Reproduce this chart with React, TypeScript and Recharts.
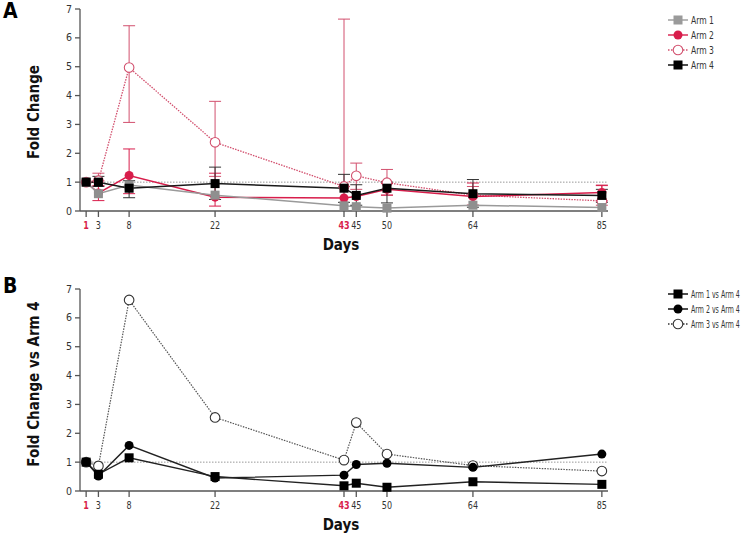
import React from "react";
import { LineChart, Line, XAxis, YAxis, ReferenceLine, ErrorBar, Legend } from "recharts";

const days = [1, 3, 8, 22, 43, 45, 50, 64, 85];
const redDays = [1, 43];
const yTicks = [0, 1, 2, 3, 4, 5, 6, 7];

// Panel A: fold change per arm
const arm1 = [1.0, 0.6, 0.9, 0.55, 0.18, 0.15, 0.1, 0.2, 0.12];
const arm2 = [1.0, 0.62, 1.23, 0.48, 0.45, 0.5, 0.75, 0.5, 0.64];
const arm3 = [1.0, 1.05, 4.97, 2.38, 0.85, 1.22, 0.98, 0.55, 0.35];
const arm4 = [1.0, 1.0, 0.79, 0.95, 0.79, 0.54, 0.79, 0.6, 0.54];

// error bar bounds (null = no bar)
const arm2Low = [null, 0.36, 0.6, 0.17, null, null, 0.55, 0.2, 0.35];
const arm2High = [null, 0.88, 2.15, 1.31, null, null, 0.95, 0.97, 0.88];
const arm3Low = [null, null, 3.07, 1.2, null, 0.75, 0.55, 0.2, 0.2];
const arm3High = [null, 1.31, 6.42, 3.8, 6.65, 1.66, 1.44, 0.85, 0.9];
const arm4Low = [null, 0.85, 0.46, 0.4, 0.3, 0.2, 0.28, 0.13, 0.3];
const arm4High = [null, 1.2, 1.05, 1.52, 1.27, 0.91, 1.0, 1.09, 0.75];

// Panel B: fold change vs arm 4
const vs1 = [1.0, 0.58, 1.15, 0.5, 0.18, 0.27, 0.13, 0.32, 0.23];
const vs2 = [1.0, 0.52, 1.58, 0.45, 0.55, 0.92, 0.96, 0.82, 1.28];
const vs3 = [1.0, 0.87, 6.62, 2.55, 1.07, 2.37, 1.28, 0.88, 0.69];

const FONT = "'Liberation Sans Narrow', 'DejaVu Sans Condensed', 'Open Sans', sans-serif";
const RED = "#d81d4b";
const PINK = "#d2506e";
const GRAY = "#9a9a9a";
const AXIS = "#555";

const err = (v: number[], lo: (number | null)[], hi: (number | null)[], i: number) => {
  if (lo[i] == null && hi[i] == null) return undefined;
  const l = lo[i] == null ? v[i] : (lo[i] as number);
  const h = hi[i] == null ? v[i] : (hi[i] as number);
  return [Math.max(0, v[i] - l), Math.max(0, h - v[i])];
};

const dataA = days.map((d, i) => ({
  day: d,
  a1: arm1[i],
  a2: arm2[i],
  a3: arm3[i],
  a4: arm4[i],
  e2: err(arm2, arm2Low, arm2High, i),
  e3: err(arm3, arm3Low, arm3High, i),
  e4: err(arm4, arm4Low, arm4High, i),
}));

const dataB = days.map((d, i) => ({ day: d, b1: vs1[i], b2: vs2[i], b3: vs3[i] }));

type Shape = "square" | "circle" | "open";

const marker = (shape: Shape, color: string, cx: number, cy: number, key?: any) => {
  if (shape === "square")
    return <rect key={key} x={cx - 4.5} y={cy - 4.5} width={9} height={9} fill={color} />;
  if (shape === "circle") return <circle key={key} cx={cx} cy={cy} r={4.5} fill={color} />;
  return <circle key={key} cx={cx} cy={cy} r={4.8} fill="#fff" stroke={color} strokeWidth={1.1} />;
};

const dotOf = (shape: Shape, color: string) => (p: any) => {
  if (p.cx == null || p.cy == null) return <g key={p.index} />;
  return marker(shape, color, p.cx, p.cy, p.index);
};

function DayTick({ x, y, payload }: any) {
  const red = redDays.includes(payload.value);
  return (
    <text transform={`translate(${x},${y}) scale(0.85,1)`} x={0} y={0} dy={10} textAnchor="middle"
      fontSize={10.5} fontFamily={FONT} fill={red ? RED : "#333"} fontWeight={red ? 700 : 400}>
      {payload.value}
    </text>
  );
}

function ValTick({ x, y, payload }: any) {
  return (
    <text x={x} y={y} dy={3.5} textAnchor="end" fontSize={10.5} fontFamily={FONT} fill="#333">
      {payload.value}
    </text>
  );
}

const yLabel = (text: string, shift: number) => (p: any) => {
  const vb = p.viewBox;
  const cy = vb.y + vb.height / 2 + shift;
  return (
    <text x={39} y={cy} transform={`rotate(-90, 39, ${cy})`} textAnchor="middle" fontSize={15}
      fontWeight={700} fontFamily={FONT} fill="#111">
      {text}
    </text>
  );
};

const daysLabel = (p: any) => {
  const vb = p.viewBox;
  return (
    <text x={341} y={vb.y + 39} textAnchor="middle" fontSize={15} fontWeight={700} fontFamily={FONT} fill="#111">
      Days
    </text>
  );
};

type Entry = { name: string; shape: Shape; color: string; dash?: string };
const legendA: Entry[] = [
  { name: "Arm 1", shape: "square", color: GRAY },
  { name: "Arm 2", shape: "circle", color: RED },
  { name: "Arm 3", shape: "open", color: PINK, dash: "1.5 1.5" },
  { name: "Arm 4", shape: "square", color: "#000" },
];
const legendB: Entry[] = [
  { name: "Arm 1 vs Arm 4", shape: "square", color: "#000" },
  { name: "Arm 2 vs Arm 4", shape: "circle", color: "#000" },
  { name: "Arm 3 vs Arm 4", shape: "open", color: "#333", dash: "1.5 1.5" },
];

const legendContent = (items: Entry[], squeeze: number) => () => (
  <svg width={81} height={items.length * 15 + 4}>
    {items.map((it, i) => {
      const y = 8 + i * 15;
      return (
        <g key={it.name}>
          <line x1={8} x2={28} y1={y} y2={y} stroke={it.color} strokeWidth={1.4} strokeDasharray={it.dash} />
          {marker(it.shape, it.color, 18, y)}
          <text transform={`translate(31, ${y + 3.5}) scale(${squeeze},1)`} x={0} y={0} fontSize={10}
            fontFamily={FONT} fill="#333">
            {it.name}
          </text>
        </g>
      );
    })}
  </svg>
);

const axisProps = {
  stroke: AXIS,
  strokeWidth: 1.3,
};

export default function App() {
  return (
    <div style={{ position: "absolute", left: 0, top: 0, width: 741, height: 537, background: "#fff" }}>
      <div style={{ position: "absolute", left: 3, top: -1, fontFamily: FONT, fontWeight: 700, fontSize: 21 }}>A</div>
      <div style={{ position: "absolute", left: 3, top: 274, fontFamily: FONT, fontWeight: 700, fontSize: 21 }}>B</div>

      <div style={{ position: "absolute", left: 0, top: 0 }}>
        <LineChart width={741} height={258} data={dataA} margin={{ top: 9, right: 133, bottom: 7, left: 0 }}>
          <XAxis dataKey="day" type="number" domain={[0, 86]} ticks={days} tick={<DayTick />} interval={0}
            tickSize={6} tickMargin={2} height={40} {...axisProps} label={{ content: daysLabel }} />
          <YAxis type="number" domain={[0, 7]} ticks={yTicks} tick={<ValTick />} tickSize={5} tickMargin={3}
            interval={0} width={80} {...axisProps} label={{ content: yLabel("Fold Change", 2) }} />
          <ReferenceLine y={1} stroke="#999" strokeDasharray="1.5 1.5" strokeWidth={1} />
          <Line dataKey="a3" stroke={PINK} strokeWidth={1.3} strokeDasharray="1.5 1.2" dot={dotOf("open", PINK)}
            isAnimationActive={false}>
            <ErrorBar dataKey="e3" width={6} stroke={PINK} strokeWidth={1} direction="y" />
          </Line>
          <Line dataKey="a2" stroke={RED} strokeWidth={1.5} dot={dotOf("circle", RED)} isAnimationActive={false}>
            <ErrorBar dataKey="e2" width={6} stroke={RED} strokeWidth={1} direction="y" />
          </Line>
          <Line dataKey="a1" stroke={GRAY} strokeWidth={1.5} dot={dotOf("square", "#8f8f8f")} isAnimationActive={false} />
          <Line dataKey="a4" stroke="#1a1a1a" strokeWidth={1.5} dot={dotOf("square", "#000")} isAnimationActive={false}>
            <ErrorBar dataKey="e4" width={6} stroke="#333" strokeWidth={1} direction="y" />
          </Line>
          <Legend layout="horizontal" align="center" verticalAlign="middle" content={legendContent(legendA, 0.85)}
            wrapperStyle={{ left: 660, top: 12, width: 81 }} />
        </LineChart>
      </div>

      <div style={{ position: "absolute", left: 0, top: 270 }}>
        <LineChart width={741} height={267} data={dataB} margin={{ top: 19, right: 133, bottom: 6, left: 0 }}>
          <XAxis dataKey="day" type="number" domain={[0, 86]} ticks={days} tick={<DayTick />} interval={0}
            tickSize={6} tickMargin={2} height={40} {...axisProps} label={{ content: daysLabel }} />
          <YAxis type="number" domain={[0, 7]} ticks={yTicks} tick={<ValTick />} tickSize={5} tickMargin={3}
            interval={0} width={80} {...axisProps} label={{ content: yLabel("Fold Change vs Arm 4", -6) }} />
          <ReferenceLine y={1} stroke="#999" strokeDasharray="1.5 1.5" strokeWidth={1} />
          <Line dataKey="b3" stroke="#555" strokeWidth={1.2} strokeDasharray="1.5 1.2" dot={dotOf("open", "#333")}
            isAnimationActive={false} />
          <Line dataKey="b2" stroke="#222" strokeWidth={1.4} dot={dotOf("circle", "#000")} isAnimationActive={false} />
          <Line dataKey="b1" stroke="#222" strokeWidth={1.4} dot={dotOf("square", "#000")} isAnimationActive={false} />
          <Legend layout="horizontal" align="center" verticalAlign="middle" content={legendContent(legendB, 0.7)}
            wrapperStyle={{ left: 660, top: 16, width: 81 }} />
        </LineChart>
      </div>
    </div>
  );
}
